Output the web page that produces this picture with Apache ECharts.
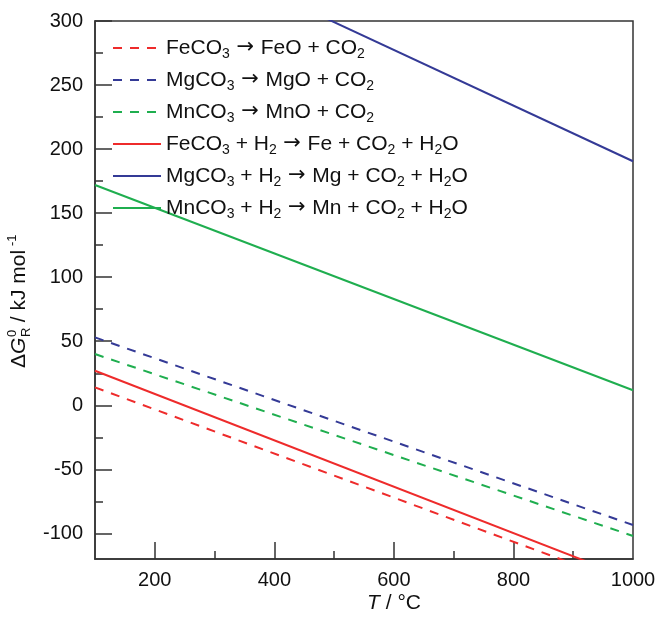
<!DOCTYPE html>
<html><head><meta charset="utf-8">
<script src="https://cdn.jsdelivr.net/npm/echarts@6/dist/echarts.min.js"></script>
<style>html,body{margin:0;padding:0;background:#fff}#c{width:659px;height:617px}</style>
</head><body><div id="c"></div>
<script>
// Temperatures (°C) at which the lines are read
const temps = [100, 1000];
// ΔG°R values (kJ/mol)
const feoDashed = [14, -141];
const mgoDashed = [53, -93.5];
const mnoDashed = [40, -102];
const feSolid = [27, -136];
const mgSolid = [386, 190.5];
const mnSolid = [172, 11.7];

const seriesNames = [
  'FeCO{s|3}{a| → }FeO + CO{s|2}',
  'MgCO{s|3}{a| → }MgO + CO{s|2}',
  'MnCO{s|3}{a| → }MnO + CO{s|2}',
  'FeCO{s|3} + H{s|2}{a| → }Fe + CO{s|2} + H{s|2}O',
  'MgCO{s|3} + H{s|2}{a| → }Mg + CO{s|2} + H{s|2}O',
  'MnCO{s|3} + H{s|2}{a| → }Mn + CO{s|2} + H{s|2}O'
];
const seriesValues = [feoDashed, mgoDashed, mnoDashed, feSolid, mgSolid, mnSolid];
const seriesColors = ['#ee2b2b', '#343a96', '#1fae4f', '#ee2b2b', '#343a96', '#1fae4f'];
const seriesDashed = [true, true, true, false, false, false];

const xLabels = [200, 400, 600, 800, 1000];
const xMajor = [200, 400, 600, 800];
const xMinor = [300, 500, 700, 900];
const yLabels = [-100, -50, 0, 50, 100, 150, 200, 250, 300];
const yMinor = [-75, -25, 25, 75, 125, 175, 225, 275];

const FONT = '"Liberation Sans", Arial, sans-serif';
const TXT = '#111';
const chart = echarts.init(document.getElementById('c'));

const series = seriesValues.map((vals, i) => ({
  name: seriesNames[i],
  type: 'line',
  data: temps.map((t, j) => [t, vals[j]]),
  symbol: 'none',
  clip: true,
  color: seriesColors[i],
  lineStyle: {color: seriesColors[i], width: 2, type: seriesDashed[i] ? [9, 8] : 'solid'},
  xAxisIndex: 0, yAxisIndex: 0
}));

chart.setOption({
  animation: false,
  grid: {left: 95, top: 21, right: 26, bottom: 58, show: true, borderColor: '#333', borderWidth: 1.5, backgroundColor: 'transparent'},
  legend: {
    left: 107, top: 30, orient: 'vertical', itemWidth: 48, itemHeight: 14, itemGap: 6,
    data: seriesNames,
    itemStyle: {opacity: 0, color: 'transparent', borderWidth: 0},
    textStyle: {fontFamily: FONT, fontSize: 21, color: TXT, lineHeight: 26,
      rich: {
        s: {fontSize: 14, lineHeight: 14, verticalAlign: 'bottom', fontFamily: FONT, color: TXT},
        a: {fontSize: 21, lineHeight: 26, fontFamily: '"DejaVu Sans", sans-serif', color: TXT}
      }}
  },
  xAxis: [{
    type: 'value', min: 100, max: 1000,
    axisLine: {show: true, onZero: false, lineStyle: {color: '#333', width: 1.5}},
    splitLine: {show: false},
    axisTick: {show: true, inside: true, length: 17, customValues: xMajor, lineStyle: {color: '#333', width: 1.5}},
    axisLabel: {customValues: xLabels, formatter: v => String(v), fontFamily: FONT, fontSize: 20, color: TXT, margin: 11}
  }, {
    type: 'value', min: 100, max: 1000, position: 'bottom',
    axisLine: {show: false, onZero: false}, splitLine: {show: false}, axisLabel: {show: false},
    axisTick: {show: true, inside: true, length: 8, customValues: xMinor, lineStyle: {color: '#333', width: 1.5}}
  }],
  yAxis: [{
    type: 'value', min: -120, max: 300,
    axisLine: {show: true, onZero: false, lineStyle: {color: '#333', width: 1.5}},
    splitLine: {show: false},
    axisTick: {show: true, inside: true, length: 17, customValues: yLabels, lineStyle: {color: '#333', width: 1.5}},
    axisLabel: {customValues: yLabels, fontFamily: FONT, fontSize: 20, color: TXT, margin: 12}
  }, {
    type: 'value', min: -120, max: 300, position: 'left',
    axisLine: {show: false, onZero: false}, splitLine: {show: false}, axisLabel: {show: false},
    axisTick: {show: true, inside: true, length: 8, customValues: yMinor, lineStyle: {color: '#333', width: 1.5}}
  }],
  graphic: [
    {type: 'text', x: 394, y: 603, style: {
      text: '{i|T} / °C', align: 'center', verticalAlign: 'middle',
      font: '21px ' + FONT, fill: TXT,
      rich: {i: {fontStyle: 'italic', fontSize: 21, fontFamily: FONT, fill: TXT}}
    }},
    {type: 'group', x: 19, y: 368, rotation: Math.PI / 2, children: [
      {type: 'text', x: 0, y: 0, style: {text: 'Δ', font: '21px ' + FONT, fill: TXT, align: 'left', verticalAlign: 'middle'}},
      {type: 'text', x: 14, y: 0, style: {text: 'G', font: 'italic 21px ' + FONT, fill: TXT, align: 'left', verticalAlign: 'middle'}},
      {type: 'text', x: 31, y: -7, style: {text: '0', font: '13px ' + FONT, fill: TXT, align: 'left', verticalAlign: 'middle'}},
      {type: 'text', x: 31, y: 7, style: {text: 'R', font: '13px ' + FONT, fill: TXT, align: 'left', verticalAlign: 'middle'}},
      {type: 'text', x: 40, y: 0, style: {text: ' / kJ mol', font: '21px ' + FONT, fill: TXT, align: 'left', verticalAlign: 'middle'}},
      {type: 'text', x: 122, y: -7, style: {text: '-1', font: '13px ' + FONT, fill: TXT, align: 'left', verticalAlign: 'middle'}}
    ]}
  ],
  series: series
});
</script></body></html>
